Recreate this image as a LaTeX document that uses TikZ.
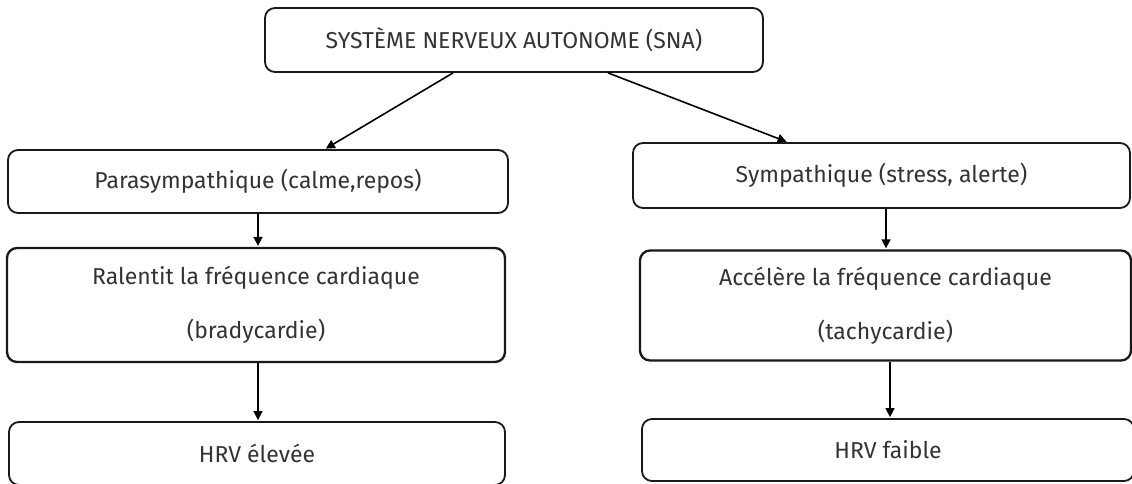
\documentclass[tikz,border=0pt]{standalone}
\usepackage{fontspec}
\setmainfont{Fira Sans}
\usetikzlibrary{arrows.meta}
\definecolor{txt}{HTML}{333333}
\tikzset{
  box/.style={draw=black!90, line width=1.8pt, rounded corners=10pt, rectangle, inner sep=0pt,
    font=\fontsize{23}{28}\selectfont, text=txt, align=center},
  bigbox/.style={box, line width=2.3pt},
  arr/.style={draw=black, line width=1.6pt, -{Triangle[length=9pt,width=9pt]}, shorten >=1pt},
}
\begin{document}
\begin{tikzpicture}[x=1pt,y=-1pt]
\useasboundingbox (0,0) rectangle (1132,483);
\node[box, minimum width=498pt, minimum height=64pt] (sna) at (514,40) {SYSTÈME NERVEUX AUTONOME (SNA)};
\node[box, minimum width=500pt, minimum height=63pt] (para) at (258,181.5) {Parasympathique (calme,repos)};
\node[box, minimum width=497pt, minimum height=65pt] (symp) at (881.5,175.5) {Sympathique (stress, alerte)};
\node[bigbox, minimum width=498pt, minimum height=114pt] (ral) at (256,305) {Ralentit la fréquence cardiaque\\[26pt](bradycardie)};
\node[bigbox, minimum width=491pt, minimum height=110pt] (acc) at (885.5,305.5) {Accélère la fréquence cardiaque\\[26pt](tachycardie)};
\node[box, minimum width=496pt, minimum height=63pt] (hrvA) at (257,453.5) {HRV élevée};
\node[box, minimum width=492pt, minimum height=62pt] (hrvB) at (888,450) {HRV faible};
\draw[arr] ([xshift=-61pt]sna.south) -- ([xshift=67pt]para.north);
\draw[arr] ([xshift=94pt]sna.south) -- ([xshift=-94pt]symp.north);
\draw[arr] ([xshift=0pt]para.south) -- (para.south |- ral.north);
\draw[arr] ([xshift=4.5pt]symp.south) -- ([xshift=4.5pt]symp.south |- acc.north);
\draw[arr] ([xshift=2pt]ral.south) -- ([xshift=2pt]ral.south |- hrvA.north);
\draw[arr] ([xshift=4.5pt]acc.south) -- ([xshift=4.5pt]acc.south |- hrvB.north);
\end{tikzpicture}
\end{document}
